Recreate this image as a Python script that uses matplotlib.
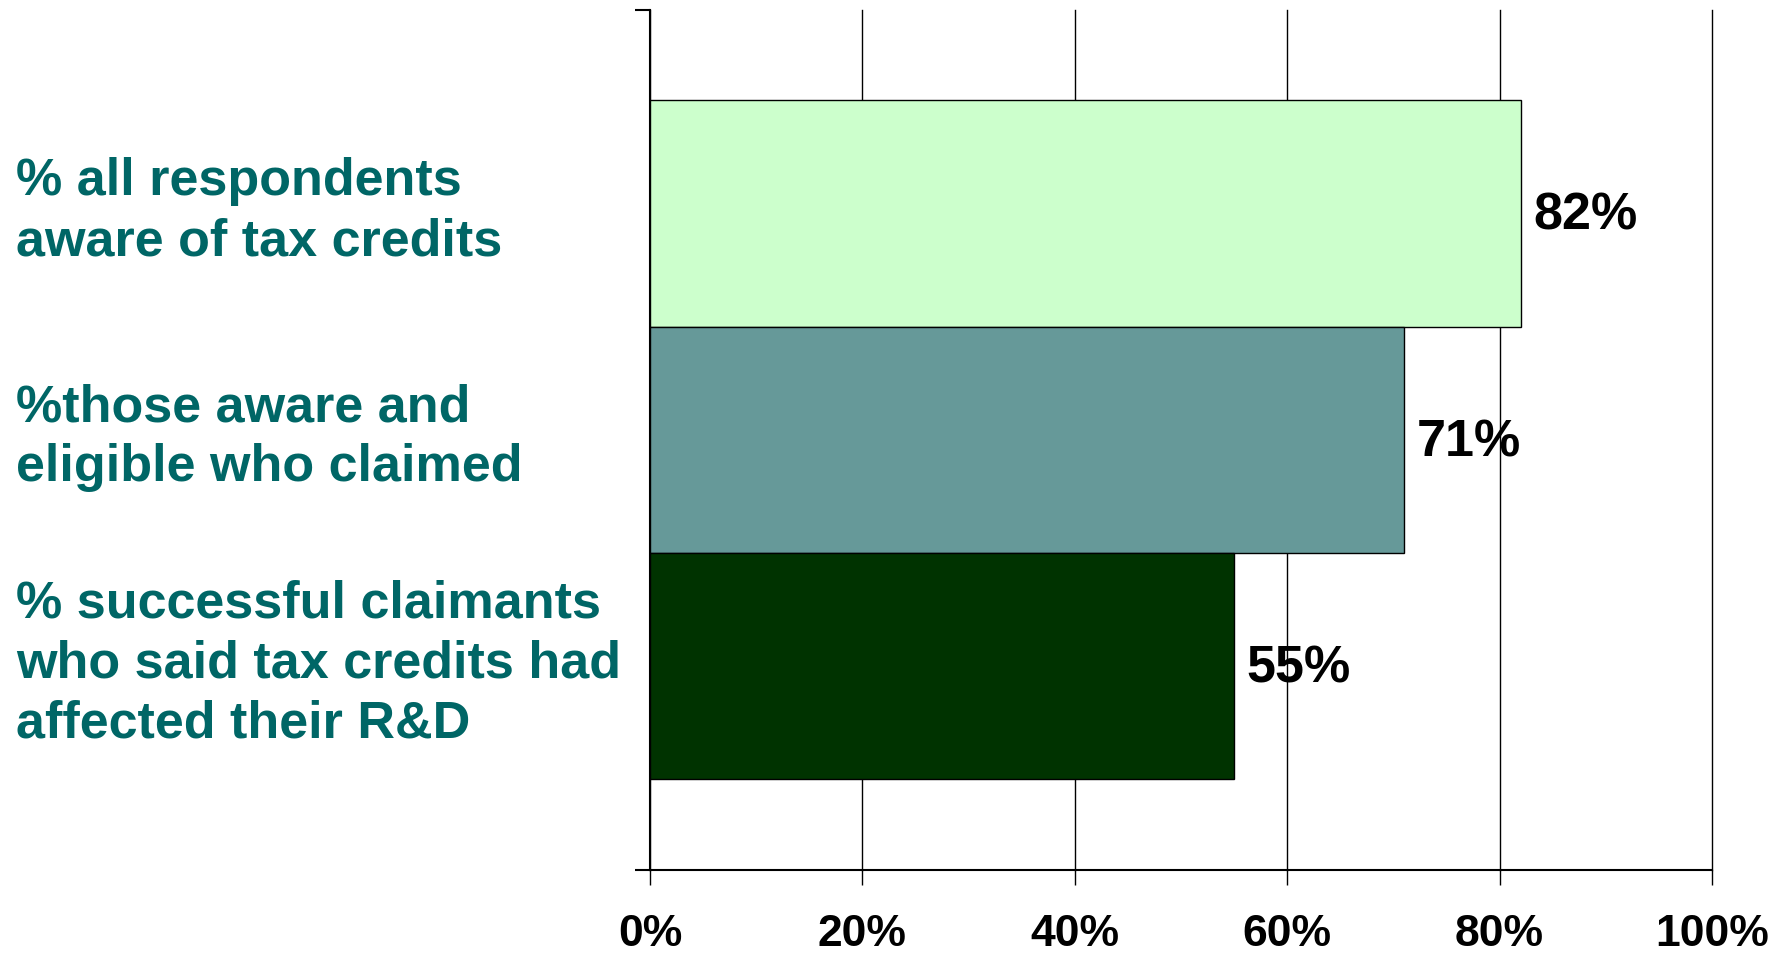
import matplotlib
matplotlib.use("Agg")
import matplotlib.pyplot as plt
import matplotlib.transforms as mtransforms

plt.rcParams['font.family'] = ['Liberation Sans', 'DejaVu Sans']

# Data
categories = [
    "% all respondents\naware of tax credits",
    "%those aware and\neligible who claimed",
    "% successful claimants\nwho said tax credits had\naffected their R&D",
]
values = [82, 71, 55]
bar_colors = ["#CCFFCC", "#669999", "#003300"]
xticks = [0, 20, 40, 60, 80, 100]
xtick_labels = ["0%", "20%", "40%", "60%", "80%", "100%"]

LABEL_COLOR = "#006666"

fig = plt.figure(figsize=(17.87, 9.57), dpi=100)
ax = fig.add_axes([0.3637, 0.0909, 0.5943, 0.8987])

ypos = list(range(len(values)))
ax.barh(ypos, values, height=1.0, color=bar_colors, edgecolor="black",
        linewidth=1.0, zorder=3)

ax.set_xlim(0, 100)
ax.set_ylim(2.9, -0.9)

# gridlines on x ticks
ax.set_xticks(xticks)
ax.set_xticklabels(xtick_labels, fontsize=32, fontweight="bold")
ax.xaxis.grid(True, color="black", linewidth=1.0, zorder=0)
for gl in ax.get_xgridlines():
    gl.set_clip_on(False)
ax.tick_params(axis="x", direction="out", length=11, width=1.0, pad=21)

# y axis: only end ticks, no labels
ax.set_yticks([-0.9, 2.9])
ax.set_yticklabels([])
ax.tick_params(axis="y", direction="out", length=11, width=1.5)

ax.spines["top"].set_visible(False)
ax.spines["right"].set_visible(False)
ax.spines["left"].set_linewidth(1.5)
ax.spines["bottom"].set_linewidth(1.5)

# value labels to the right of the bars
for y, v in zip(ypos, values):
    ax.annotate(f"{v}%", xy=(v, y), xytext=(9, -2), textcoords="offset points",
                ha="left", va="center", fontsize=37.5, fontweight="bold",
                color="black", zorder=4)

# category labels at the left of the figure
trans = mtransforms.blended_transform_factory(fig.transFigure, ax.transData)
for y, lab in zip(ypos, categories):
    ax.text(0.009, y - 0.01, lab, transform=trans, ha="left", va="center",
            fontsize=37.5, fontweight="bold", color=LABEL_COLOR,
            linespacing=1.3)

fig.savefig("out.png", dpi=100)
